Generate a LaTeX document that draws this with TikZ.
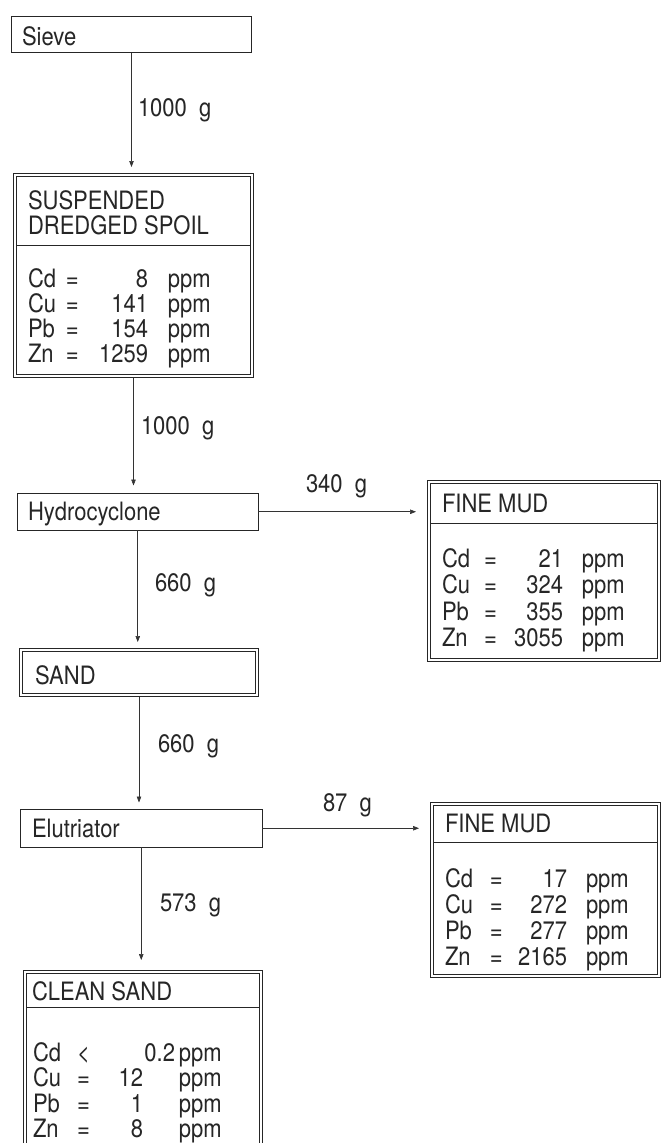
\documentclass[tikz,border=0pt]{standalone}
\usepackage{fontspec}
\usepackage{graphicx}
\setmainfont{TeX Gyre Heros}
\usetikzlibrary{arrows.meta}
\newcommand\tall[1]{\scalebox{1}[1.15]{#1}}
\newcommand\chemrow[7]{\makebox[#1pt][l]{#5}\makebox[#2pt][l]{#6}\makebox[#3pt][r]{#7}\hspace{#4pt}ppm}
\begin{document}
\begin{tikzpicture}[x=1pt,y=-1pt,
  sbox/.style={draw=black!85, line width=1pt, rectangle, anchor=north west, inner sep=0pt, outer sep=0pt},
  dbox/.style={draw=black!85, line width=0.8pt, double, double distance=2.4pt, rectangle, anchor=north west, inner sep=0pt, outer sep=0pt},
  txt/.style={inner sep=0pt, outer sep=0pt, anchor=base west, font=\fontsize{22}{26}\selectfont, text=black!85},
  flow/.style={draw=black!80, line width=0.6pt, -{Triangle[width=4.5pt,length=6pt]}},
  divider/.style={draw=black!85, line width=0.8pt}
]
\useasboundingbox (0,0) rectangle (662,1143);
\fill[white] (0,0) rectangle (662,1143);
\clip (0,0) rectangle (662,1143);

% boxes
\node[sbox, minimum width=240pt, minimum height=36pt] (sieve) at (11.5,16.5) {};
\node[dbox, minimum width=237pt, minimum height=201pt] (susp) at (15,175) {};
\node[sbox, minimum width=240.5pt, minimum height=36.5pt] (hydro) at (17.5,493.5) {};
\node[dbox, minimum width=230pt, minimum height=178pt] (fm1) at (429,482) {};
\node[dbox, minimum width=236pt, minimum height=45pt] (sand) at (21,650) {};
\node[sbox, minimum width=241.5pt, minimum height=37.5pt] (elut) at (20.5,809.5) {};
\node[dbox, minimum width=227pt, minimum height=172pt] (fm2) at (432,804) {};
\node[dbox, minimum width=236pt, minimum height=190pt] (clean) at (25,972) {};

% dividers
\coordinate (d1) at (0,245);
\coordinate (d2) at (0,523);
\coordinate (d3) at (0,842);
\coordinate (d4) at (0,1007);
\draw[divider, shorten <=1.6pt, shorten >=1.6pt] (susp.west |- d1) -- (susp.east |- d1);
\draw[divider, shorten <=1.6pt, shorten >=1.6pt] (fm1.west |- d2) -- (fm1.east |- d2);
\draw[divider, shorten <=1.6pt, shorten >=1.6pt] (fm2.west |- d3) -- (fm2.east |- d3);
\draw[divider, shorten <=1.6pt, shorten >=1.6pt] (clean.west |- d4) -- (clean.east |- d4);

% titles
\node[txt] (sieveT) at (22,45) {\tall{Sieve}};
\node[txt] (suspT1) at (28,209) {\tall{SUSPENDED}};
\node[txt] (suspT2) at (28,234) {\tall{DREDGED SPOIL}};
\node[txt] (hydroT) at (28,520) {\tall{Hydrocyclone}};
\node[txt] (fm1T) at (442,512) {\tall{FINE MUD}};
\node[txt] (sandT) at (35,684) {\tall{SAND}};
\node[txt] (elutT) at (32,837) {\tall{Elutriator}};
\node[txt] (fm2T) at (445,832) {\tall{FINE MUD}};
\node[txt] (cleanT) at (32,1000) {\tall{CLEAN SAND}};

% concentration rows
\foreach \e/\r/\n [count=\i from 0] in {Cd/=/8, Cu/=/141, Pb/=/154, Zn/=/1259}
  \node[txt] (susp-\i) at (28,{287+25*\i}) {\tall{\chemrow{38}{14}{68}{20}{\e}{\r}{\n}}};
\foreach \e/\r/\n [count=\i from 0] in {Cd/=/21, Cu/=/324, Pb/=/355, Zn/=/3055}
  \node[txt] (fm1-\i) at (442,{567+26.5*\i}) {\tall{\chemrow{42}{14}{65}{19}{\e}{\r}{\n}}};
\foreach \e/\r/\n [count=\i from 0] in {Cd/=/17, Cu/=/272, Pb/=/277, Zn/=/2165}
  \node[txt] (fm2-\i) at (445,{887+26.3*\i}) {\tall{\chemrow{45}{14}{63}{19}{\e}{\r}{\n}}};
\node[txt] (clean-0) at (33,1061) {\tall{\chemrow{44}{14}{84}{4}{Cd}{<}{0.2}}};
\node[txt] (clean-1) at (33,1086) {\tall{\chemrow{44}{14}{52}{36}{Cu}{=}{12}}};
\node[txt] (clean-2) at (33,1112) {\tall{\chemrow{44}{14}{52}{36}{Pb}{=}{1}}};
\node[txt] (clean-3) at (33,1137) {\tall{\chemrow{44}{14}{52}{36}{Zn}{=}{8}}};

% flow connectors
\draw[flow, shorten >=8pt] (sieve.south) -- (sieve.south |- susp.north);
\draw[flow, shorten <=2pt, shorten >=8pt] (susp.south) -- (susp.south |- hydro.north);
\draw[flow, shorten >=8pt] (hydro.south) -- (hydro.south |- sand.north);
\draw[flow, shorten <=2pt, shorten >=7pt] (sand.south) -- (sand.south |- elut.north);
\draw[flow, shorten >=12pt] (elut.south) -- (elut.south |- clean.north);
\draw[flow, shorten >=13pt] (hydro.east) -- (hydro.east -| fm1.west);
\draw[flow, shorten >=13pt] (elut.east) -- (elut.east -| fm2.west);

% mass labels
\node[txt] (l1) at (138,116) {\tall{1000\ \ g}};
\node[txt] (l2) at (141,434) {\tall{1000\ \ g}};
\node[txt] (l3) at (306,492) {\tall{340\ \ g}};
\node[txt] (l4) at (155,591) {\tall{660\ \ g}};
\node[txt] (l5) at (158,752) {\tall{660\ \ g}};
\node[txt] (l6) at (323,811) {\tall{87\ \ g}};
\node[txt] (l7) at (160,911) {\tall{573\ \ g}};
\end{tikzpicture}
\end{document}
